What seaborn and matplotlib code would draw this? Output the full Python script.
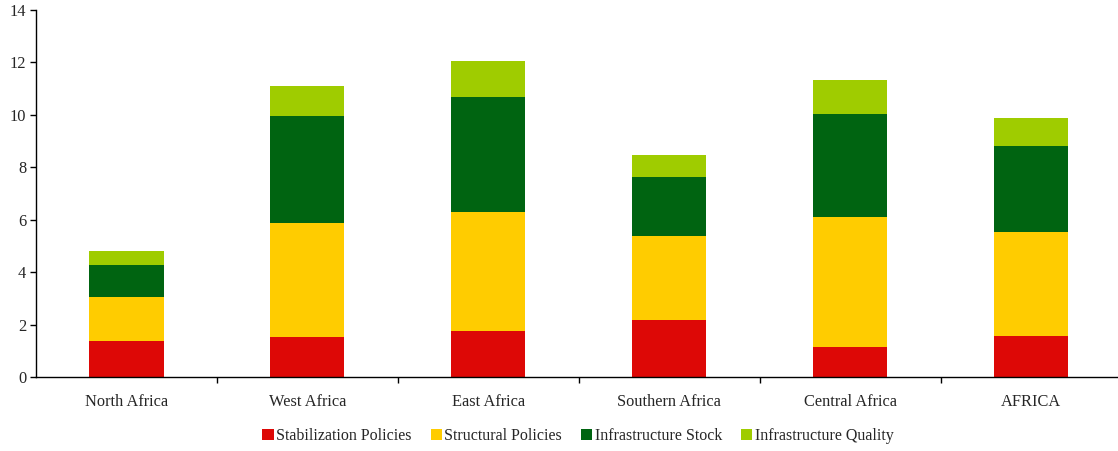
import numpy as np
import pandas as pd
import matplotlib
matplotlib.use("Agg")
import matplotlib.pyplot as plt
import seaborn as sns
from matplotlib.patches import Patch

regions = ["North Africa", "West Africa", "East Africa", "Southern Africa", "Central Africa", "AFRICA"]
stabilization = [1.39, 1.52, 1.76, 2.18, 1.16, 1.56]
structural = [1.67, 4.36, 4.54, 3.20, 4.96, 3.96]
infra_stock = [1.21, 4.08, 4.39, 2.25, 3.91, 3.30]
infra_quality = [0.54, 1.15, 1.37, 0.84, 1.31, 1.07]

series_names = ["Stabilization Policies", "Structural Policies", "Infrastructure Stock", "Infrastructure Quality"]
colors = ["#DD0806", "#FFCC00", "#006411", "#9FCC00"]

df = pd.DataFrame({
    "region": regions,
    series_names[0]: stabilization,
    series_names[1]: structural,
    series_names[2]: infra_stock,
    series_names[3]: infra_quality,
})

sns.set_style("white")
plt.rcParams["font.family"] = ["Liberation Serif", "DejaVu Serif"]

fig = plt.figure(figsize=(11.18, 4.51), dpi=100)
ax = fig.add_axes([36 / 1118, 1 - 377 / 451, (1118 - 36) / 1118, (377 - 10) / 451])

# stacked bars: draw cumulative totals from the top segment down
cum = df[series_names].cumsum(axis=1)
for name, col in reversed(list(zip(series_names, colors))):
    sns.barplot(x=df["region"], y=cum[name], color=col, width=0.41,
                saturation=1, ax=ax, linewidth=0, order=regions)

ax.set_ylim(0, 14)
ax.set_yticks(np.arange(0, 15, 2))
ax.set_xlim(-0.5, 5.48)
ax.set_xlabel("")
ax.set_ylabel("")

# category labels centred, tick marks at category boundaries
ax.set_xticks(np.arange(len(regions)))
ax.set_xticklabels(regions, fontsize=11.8)
ax.tick_params(axis="x", which="major", length=0, pad=12)
ax.set_xticks(np.arange(0.5, len(regions) - 0.5), minor=True)
ax.tick_params(axis="x", which="minor", bottom=True, length=4, width=1,
               direction="out", color="black")
ax.tick_params(axis="y", left=True, length=4, width=1, direction="out",
               color="black", labelsize=11.8, pad=3)

for s in ["top", "right"]:
    ax.spines[s].set_visible(False)
for s in ["left", "bottom"]:
    ax.spines[s].set_color("black")
    ax.spines[s].set_linewidth(1)

handles = [Patch(facecolor=c, edgecolor="none") for c in colors]
fig.legend(handles, series_names, loc="center", bbox_to_anchor=(578 / 1118, 1 - 436 / 451),
           ncol=4, frameon=False, fontsize=11.5, handlelength=0.7, handleheight=0.7,
           handletextpad=0.15, columnspacing=1.2)

fig.savefig("out.png", dpi=100)
